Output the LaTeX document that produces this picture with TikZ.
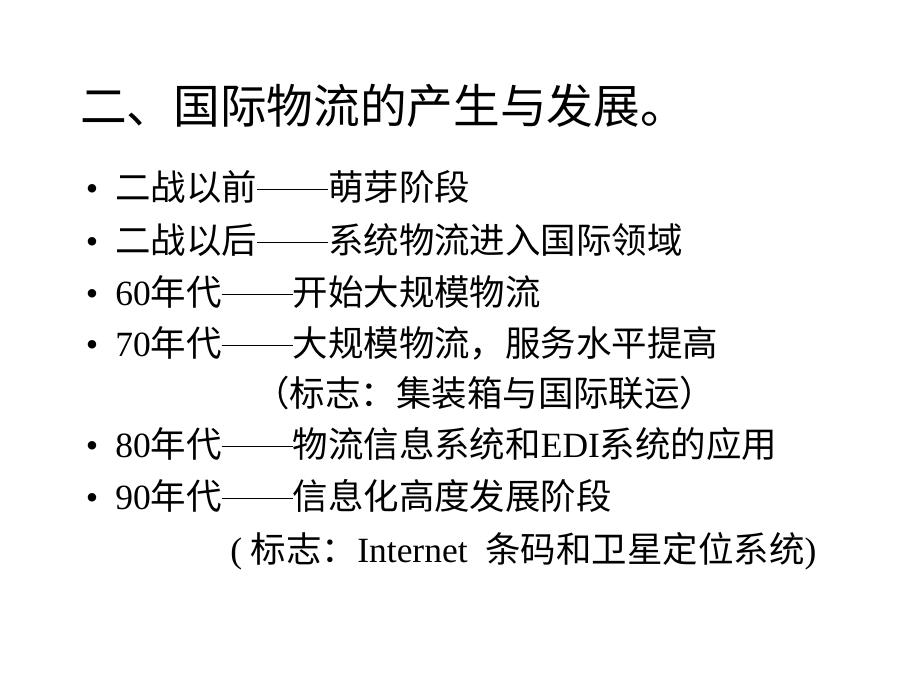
\documentclass[tikz,border=0pt]{standalone}
\usepackage{fontspec}
\setmainfont{Liberation Serif}
\newfontfamily\cjk{Noto Sans CJK SC}
\newcommand\longdash{\rule[0.27em]{2em}{0.05em}}
\begin{document}
\begin{tikzpicture}[x=0.75pt,y=-0.75pt,
  title/.style={anchor=base west,inner sep=0pt,font=\fontsize{35}{38}\selectfont},
  item/.style={anchor=base west,inner sep=0pt,font=\fontsize{26.6}{30}\selectfont},
  bul/.style={anchor=base,inner sep=0pt,font=\fontsize{26.6}{30}\selectfont}]
\fill[white] (0,0) rectangle (920,690);
\useasboundingbox (0,0) rectangle (920,690);
\node[title] (t) at (80,123) {\cjk 二、国际物流的产生与发展。};
\node[bul] (b1) at (92,200) {•};
\node[item] (l1) at (115,200) {{\cjk 二战以前}\longdash{\cjk 萌芽阶段}};
\node[bul] (b2) at (92,253) {•};
\node[item] (l2) at (115,253) {{\cjk 二战以后}\longdash{\cjk 系统物流进入国际领域}};
\node[bul] (b3) at (92,305) {•};
\node[item] (l3) at (115,305) {60{\cjk 年代}\longdash{\cjk 开始大规模物流}};
\node[bul] (b4) at (92,356) {•};
\node[item] (l4) at (115,356) {70{\cjk 年代}\longdash{\cjk 大规模物流，服务水平提高}};
\node[item] (l5) at (254,406) {\cjk （标志：集装箱与国际联运）};
\node[bul] (b6) at (92,457) {•};
\node[item] (l6) at (115,457) {80{\cjk 年代}\longdash{\cjk 物流信息系统和}EDI{\cjk 系统的应用}};
\node[bul] (b7) at (92,509) {•};
\node[item] (l7) at (115,509) {90{\cjk 年代}\longdash{\cjk 信息化高度发展阶段}};
\node[item] (l8) at (230,562) {( {\cjk 标志：}Internet\ \ {\cjk 条码和卫星定位系统})};
\end{tikzpicture}
\end{document}
